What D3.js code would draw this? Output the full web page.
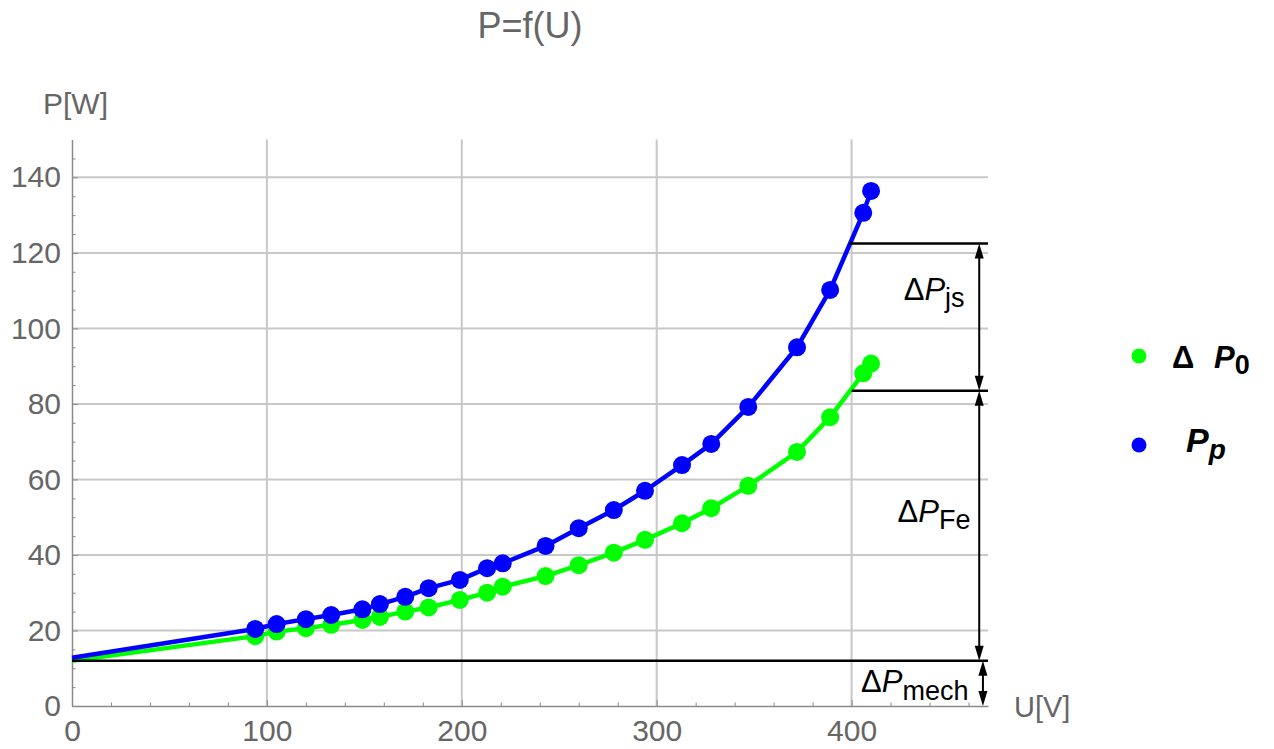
<!DOCTYPE html>
<html>
<head>
<meta charset="utf-8">
<script src="https://cdn.jsdelivr.net/npm/d3@7"></script>
<style>
  body { margin: 0; background: #fff; }
  svg { font-family: "Liberation Sans", Arial, sans-serif; }
</style>
</head>
<body>
<div id="chart"></div>
<script>
// measured values
const voltage = [94, 105, 120, 133, 149, 158, 171, 183, 199, 213, 221, 243, 260, 278, 294, 313, 328, 347, 372, 389, 406, 410];
const lossP0 = [18.5, 19.7, 20.6, 21.5, 22.8, 23.6, 25.0, 26.1, 28.1, 30.0, 31.6, 34.4, 37.3, 40.6, 44.0, 48.4, 52.4, 58.3, 67.3, 76.5, 88.1, 90.7];
const powerPp = [20.4, 21.7, 23.0, 24.1, 25.6, 27.0, 28.9, 31.2, 33.4, 36.5, 37.8, 42.4, 47.1, 51.9, 57.0, 63.8, 69.4, 79.2, 95.0, 110.2, 130.6, 136.4];
// line values at U = 0
const startP0 = 12.0;
const startPp = 12.8;
// loss split levels: mech, Fe, js
const lossLevels = [12, 83.5, 122.5];
const lossStartU = [0, 400, 399];

const xTicks = [0, 100, 200, 300, 400];
const yTicks = [0, 20, 40, 60, 80, 100, 120, 140];
const xGrid = [100, 200, 300, 400];
const yGrid = [20, 40, 60, 80, 100, 120, 140];

const width = 1274, height = 749;
const green = "#00ff00", blue = "#0000ff";
const axisGrey = "#8a8a8a", labelGrey = "#666";

const svg = d3.select("#chart").append("svg")
  .attr("width", width)
  .attr("height", height);

const x = d3.scaleLinear().domain([0, 470]).range([72, 988]);
const y = d3.scaleLinear().domain([0, 150]).range([706, 139.6]);

// title
svg.append("text")
  .attr("x", 530).attr("y", 38)
  .attr("text-anchor", "middle")
  .attr("font-size", 36)
  .attr("fill", labelGrey)
  .text("P=f(U)");

// grid
svg.append("g").selectAll("line")
  .data(xGrid).enter().append("line")
  .attr("x1", d => x(d)).attr("x2", d => x(d))
  .attr("y1", y(0)).attr("y2", y(150))
  .attr("stroke", "#c8c8c8").attr("stroke-width", 2);
svg.append("g").selectAll("line")
  .data(yGrid).enter().append("line")
  .attr("x1", x(0)).attr("x2", x(470))
  .attr("y1", d => y(d)).attr("y2", d => y(d))
  .attr("stroke", "#c8c8c8").attr("stroke-width", 2);

// axes
const xMinor = d3.range(0, 470, 20).filter(d => d % 100 !== 0);
const yMinor = d3.range(0, 150, 5).filter(d => d % 20 !== 0);

const xAxis = svg.append("g")
  .attr("transform", "translate(0," + y(0) + ")")
  .call(d3.axisBottom(x).tickValues(xTicks).tickSize(-6).tickSizeOuter(0).tickPadding(14));
xAxis.append("g")
  .call(d3.axisBottom(x).tickValues(xMinor).tickSize(-3.5).tickSizeOuter(0).tickFormat(""))
  .select(".domain").remove();

const yAxis = svg.append("g")
  .attr("transform", "translate(" + x(0) + ",0)")
  .call(d3.axisLeft(y).tickValues(yTicks).tickSize(-6).tickSizeOuter(0).tickPadding(11));
yAxis.append("g")
  .call(d3.axisLeft(y).tickValues(yMinor).tickSize(-3.5).tickSizeOuter(0).tickFormat(""))
  .select(".domain").remove();

svg.selectAll(".domain").attr("stroke", axisGrey).attr("stroke-width", 1.5);
svg.selectAll(".tick line").attr("stroke", axisGrey).attr("stroke-width", 1);
svg.selectAll(".tick text")
  .attr("font-size", 30)
  .attr("fill", labelGrey)
  .attr("font-family", "'Liberation Sans', Arial, sans-serif");

svg.append("text")
  .attr("x", 43).attr("y", 114)
  .attr("font-size", 30).attr("fill", labelGrey)
  .text("P[W]");
svg.append("text")
  .attr("x", 1014).attr("y", 717)
  .attr("font-size", 29).attr("fill", labelGrey)
  .text("U[V]");

// series, straight segments between measured points
const line = d3.line()
  .x(d => x(d[0]))
  .y(d => y(d[1]));

const series = [
  { name: "P0", values: lossP0, start: startP0, color: green },
  { name: "Pp", values: powerPp, start: startPp, color: blue }
];

series.forEach(s => {
  const pts = voltage.map((u, i) => [u, s.values[i]]);
  svg.append("path")
    .datum([[0, s.start]].concat(pts))
    .attr("d", line)
    .attr("fill", "none")
    .attr("stroke", s.color)
    .attr("stroke-width", 4.5)
    .attr("stroke-linejoin", "round");
  svg.append("g").selectAll("circle")
    .data(pts).enter().append("circle")
    .attr("cx", d => x(d[0]))
    .attr("cy", d => y(d[1]))
    .attr("r", 9)
    .attr("fill", s.color);
});

// loss annotations
svg.append("g").selectAll("line")
  .data(lossLevels).enter().append("line")
  .attr("x1", (d, i) => x(lossStartU[i])).attr("x2", x(470))
  .attr("y1", d => y(d)).attr("y2", d => y(d))
  .attr("stroke", "#000").attr("stroke-width", 2.5);

function arrow(u, p1, p2) {
  const ax = x(u), ya = y(p1), yb = y(p2);
  const head = 15, half = 4.5;
  svg.append("line")
    .attr("x1", ax).attr("x2", ax)
    .attr("y1", ya + 6).attr("y2", yb - 6)
    .attr("stroke", "#000").attr("stroke-width", 2);
  svg.append("path")
    .attr("d", "M" + ax + "," + ya + "L" + (ax - half) + "," + (ya + head) + "L" + (ax + half) + "," + (ya + head) + "Z")
    .attr("fill", "#000");
  svg.append("path")
    .attr("d", "M" + ax + "," + yb + "L" + (ax - half) + "," + (yb - head) + "L" + (ax + half) + "," + (yb - head) + "Z")
    .attr("fill", "#000");
}
arrow(465.5, lossLevels[2], lossLevels[1]);
arrow(465.5, lossLevels[1], lossLevels[0]);
arrow(467.4, lossLevels[0], 0);

function lossLabel(u, p, sub, dy) {
  const t = svg.append("text")
    .attr("x", x(u)).attr("y", y(p))
    .attr("text-anchor", "end")
    .attr("font-size", 31)
    .attr("fill", "#000");
  t.append("tspan").text("Δ");
  t.append("tspan").attr("font-style", "italic").text("P");
  t.append("tspan").attr("font-size", 27).attr("dy", dy).text(sub);
}
lossLabel(458, 107.5, "js", 7);
lossLabel(461, 48.8, "Fe", 7);
lossLabel(460, 3.7, "mech", 8);

// legend
const legend = svg.append("g");
legend.append("circle").attr("cx", 1139).attr("cy", 356).attr("r", 7.5).attr("fill", green);
legend.append("circle").attr("cx", 1139).attr("cy", 445).attr("r", 7.5).attr("fill", blue);

const l1 = legend.append("text")
  .attr("x", 1172).attr("y", 368)
  .attr("font-size", 31).attr("font-weight", "bold").attr("fill", "#000");
l1.append("tspan").text("Δ");
l1.append("tspan").attr("x", 1214).attr("font-style", "italic").text("P");
l1.append("tspan").attr("dy", 6).attr("font-size", 27).text("0");

const l2 = legend.append("text")
  .attr("x", 1186).attr("y", 452)
  .attr("font-size", 34).attr("font-weight", "bold").attr("font-style", "italic").attr("fill", "#000");
l2.append("tspan").text("P");
l2.append("tspan").attr("dy", 7).attr("font-size", 28).text("p");
</script>
</body>
</html>
